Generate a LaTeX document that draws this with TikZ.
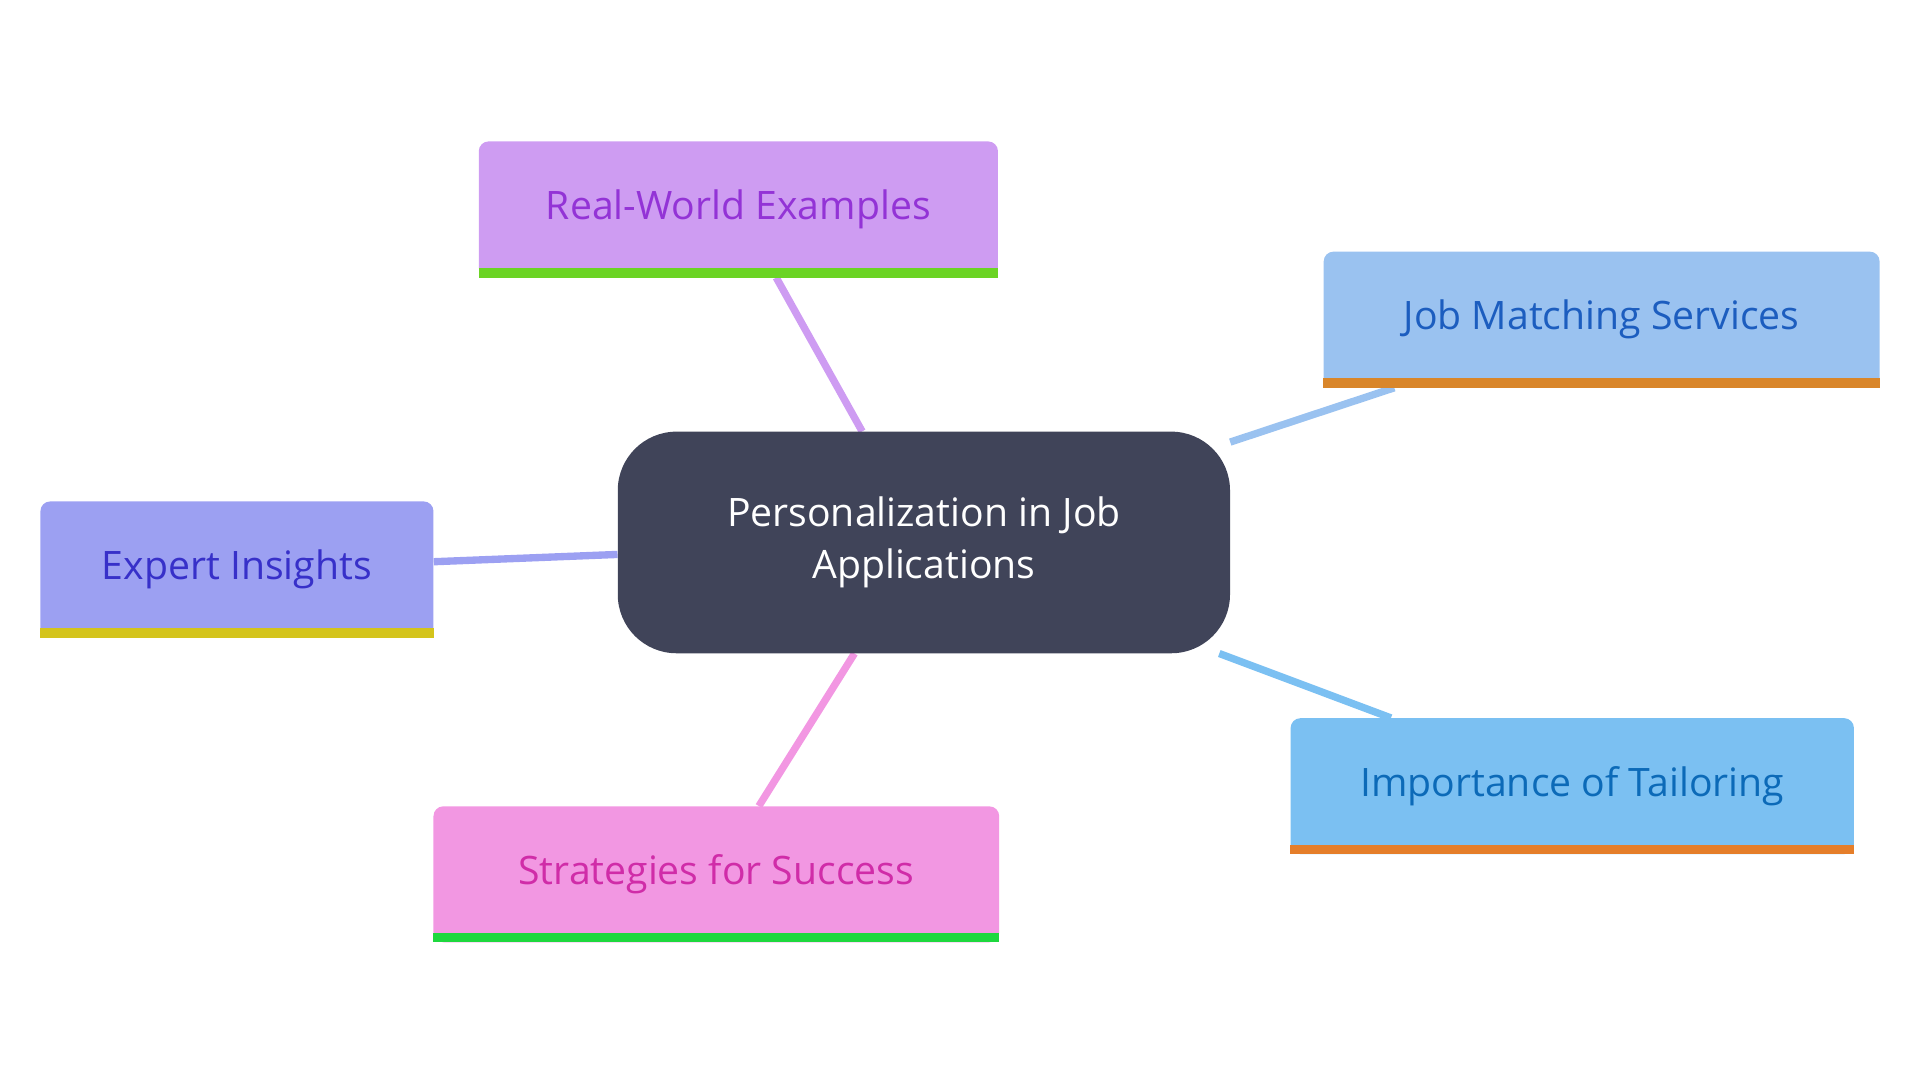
\documentclass[tikz,border=0pt]{standalone}
\usepackage{fontspec}
\setmainfont{Open Sans}
\usetikzlibrary{positioning, backgrounds}

\definecolor{hubfill}{HTML}{404459}
\definecolor{rwfill}{HTML}{CE9CF2}
\definecolor{rwbar}{HTML}{6BD424}
\definecolor{rwtext}{HTML}{9333D6}
\definecolor{jmfill}{HTML}{9AC2F0}
\definecolor{jmbar}{HTML}{D9862A}
\definecolor{jmtext}{HTML}{1C5DBF}
\definecolor{eifill}{HTML}{9CA0F2}
\definecolor{eibar}{HTML}{D4C41C}
\definecolor{eitext}{HTML}{3730C9}
\definecolor{itfill}{HTML}{7BC0F2}
\definecolor{itbar}{HTML}{E57E2A}
\definecolor{ittext}{HTML}{0C6AB8}
\definecolor{ssfill}{HTML}{F297E2}
\definecolor{ssbar}{HTML}{1ED83E}
\definecolor{sstext}{HTML}{D02CA8}

\tikzset{
  hub/.style={fill=hubfill, text=white, rounded corners=48pt, minimum width=500pt,
    minimum height=181pt, align=center, font=\fontsize{32}{42}\selectfont},
  topic/.style={rounded corners=8pt, minimum height=111pt, inner sep=0pt,
    font=\fontsize{32}{38}\selectfont},
  link/.style={line width=6pt}
}

\begin{document}
\begin{tikzpicture}[x=1pt, y=-1pt]
  \useasboundingbox (0,0) rectangle (1568,882);

  % central hub
  \node[hub] (hub) at (754.5,443) {Personalization in Job\\Applications};

  % topics around the hub
  \node[topic, fill=rwfill, text=rwtext, minimum width=424pt] (rw) at (603,171) {Real-World Examples};
  \node[topic, fill=jmfill, text=jmtext, minimum width=454pt] (jm) at (1308,261) {Job Matching Services};
  \node[topic, fill=eifill, text=eitext, minimum width=321pt] (ei) at (193.5,465) {Expert Insights};
  \node[topic, fill=itfill, text=ittext, minimum width=460pt] (it) at (1284,642) {Importance of Tailoring};
  \node[topic, fill=ssfill, text=sstext, minimum width=462pt] (ss) at (585,714) {Strategies for Success};

  % bottom bars
  \foreach \n/\c in {rw/rwbar, jm/jmbar, ei/eibar, it/itbar, ss/ssbar}
    \fill[\c] (\n.south west) rectangle ([yshift=8pt]\n.south east);

  % links
  \begin{scope}[on background layer]
    \draw[link, rwfill] (hub) -- (rw);
    \draw[link, jmfill] (hub) -- (jm);
    \draw[link, eifill] (hub) -- (ei);
    \draw[link, itfill] (hub) -- (it);
    \draw[link, ssfill] (hub) -- (ss);
  \end{scope}
\end{tikzpicture}
\end{document}
